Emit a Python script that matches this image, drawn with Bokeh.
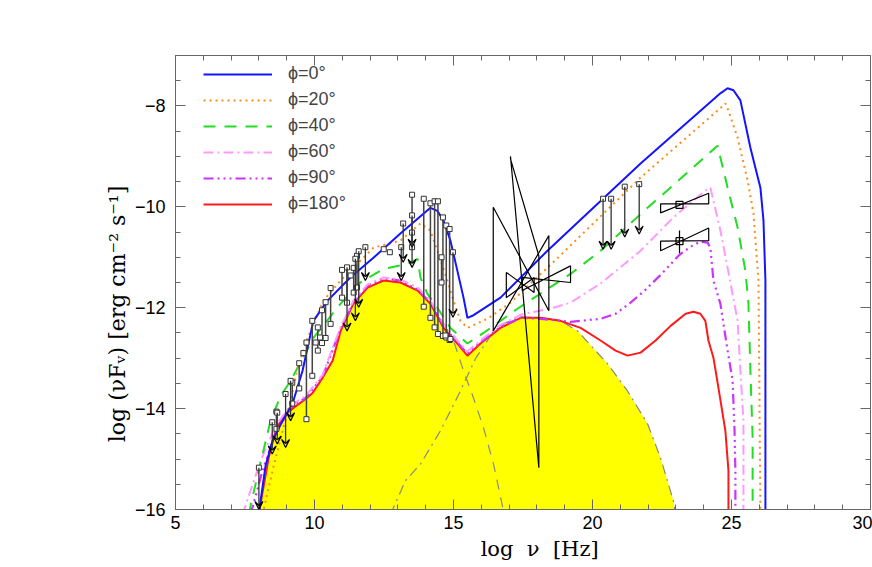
import numpy as np
from bokeh.plotting import figure
from bokeh.models import (Range1d, LinearAxis, Legend, LegendItem, Arrow, VeeHead,
                          ColumnDataSource, FixedTicker)
from bokeh.embed import file_html
from bokeh.resources import INLINE

# ---------------- data (log nu [Hz], log nuFnu) ----------------
# total low-state (synchrotron + SSC), filled yellow
base_x = [7.99, 8.35, 8.60, 8.88, 9.21, 9.68, 9.93, 10.29, 10.65, 10.94, 11.40, 11.91, 12.48, 13.09,
          13.71, 14.17, 14.64, 15.14, 15.50, 15.97, 16.69, 17.41, 18.13, 18.85, 19.46, 20.54, 21.26,
          21.98, 22.45, 22.91, 23.02]
base_y = [-16.1, -14.98, -14.44, -14.14, -14.00, -13.81, -13.69, -13.39, -13.05, -12.46, -11.92, -11.60,
          -11.46, -11.50, -11.66, -11.92, -12.40, -12.71, -12.95, -12.71, -12.40, -12.20, -12.20, -12.26,
          -12.46, -13.11, -13.65, -14.30, -14.98, -15.83, -16.2]

sync_x = [14.64, 15.00, 15.36, 15.72, 16.08, 16.44, 16.80, 16.87]
sync_y = [-12.40, -12.65, -13.25, -13.79, -14.38, -15.10, -16.03, -16.2]

ssc_x = [12.73, 13.27, 13.81, 14.53, 15.25, 15.79, 16.33, 16.87, 17.41, 18.13, 18.85, 19.46, 20.54,
         21.26, 21.98, 22.45, 22.91, 23.02]
ssc_y = [-16.1, -15.43, -15.10, -14.44, -13.65, -13.01, -12.56, -12.30, -12.18, -12.20, -12.26, -12.46,
         -13.11, -13.65, -14.30, -14.98, -15.83, -16.2]

phi0_x = [7.99, 8.24, 8.49, 8.85, 9.21, 9.57, 9.96, 10.47, 11.29, 12.12, 13.09, 14.17, 14.42, 14.64,
          14.89, 15.14, 15.36, 15.50, 15.68, 16.69, 18.38, 21.73, 24.60, 24.86, 25.07, 25.32, 25.68,
          26.04, 26.15, 26.22, 26.22]
phi0_y = [-16.1, -15.13, -14.64, -14.24, -13.90, -13.25, -12.26, -11.86, -11.40, -11.01, -10.53, -10.02,
          -10.08, -10.27, -10.67, -11.27, -11.80, -12.20, -12.16, -11.80, -10.87, -9.14, -7.75, -7.65,
          -7.69, -7.89, -8.83, -9.62, -10.27, -11.46, -16.1]

phi20_x = [8.13, 8.49, 8.85, 9.14, 9.39, 9.75, 10.32, 10.94, 12.12, 13.09, 13.81, 14.17, 14.42, 14.78,
           15.00, 15.25, 15.50, 16.22, 17.05, 17.88, 18.49, 21.73, 24.71, 24.78, 24.89, 25.22, 25.58,
           25.79, 25.97, 26.04]
phi20_y = [-16.1, -15.23, -14.44, -13.85, -13.19, -12.60, -11.86, -11.46, -10.81, -10.67, -10.33, -10.47,
           -10.87, -11.46, -11.86, -12.26, -12.40, -12.22, -11.90, -11.46, -11.15, -9.42, -7.99, -7.95,
           -8.09, -8.63, -9.48, -10.13, -11.46, -16.1]

phi40_x = [7.63, 7.99, 8.42, 8.78, 9.14, 9.96, 10.94, 11.65, 12.48, 13.35, 13.71, 13.81, 14.06, 14.42,
           14.89, 15.50, 16.08, 16.69, 17.30, 18.13, 19.21, 20.29, 21.98, 23.17, 24.50, 24.60, 24.86,
           25.22, 25.50, 25.61, 25.68, 25.76, 25.76]
phi40_y = [-16.1, -15.23, -14.24, -13.75, -13.45, -12.60, -11.92, -11.50, -11.23, -11.13, -11.03, -11.40,
           -11.72, -12.00, -12.40, -12.71, -12.50, -12.26, -12.02, -11.72, -11.33, -10.87, -10.02, -9.44,
           -8.79, -9.02, -9.62, -10.41, -11.27, -11.92, -13.25, -14.58, -16.1]

phi60_x = [7.41, 8.06, 8.60, 9.14, 9.68, 10.29, 10.94, 11.40, 11.91, 12.48, 13.09, 13.71, 14.17, 14.64,
           15.14, 15.50, 15.97, 16.69, 17.41, 18.60, 19.21, 20.29, 21.73, 22.91, 24.14, 24.24, 24.35,
           24.60, 24.86, 25.22, 25.32, 25.43, 25.43]
phi60_y = [-16.1, -15.04, -14.34, -13.94, -13.75, -13.33, -12.38, -11.86, -11.54, -11.40, -11.44, -11.60,
           -11.86, -12.32, -12.65, -12.87, -12.65, -12.34, -12.14, -12.00, -11.90, -11.52, -10.87, -10.21,
           -9.64, -9.62, -9.88, -10.47, -11.21, -12.26, -13.25, -14.24, -16.1]

phi90_x = [7.70, 8.13, 8.60, 9.14, 9.68, 10.29, 10.94, 11.40, 11.91, 12.48, 13.09, 13.71, 14.17, 14.64,
           15.14, 15.50, 15.97, 16.69, 17.41, 18.13, 19.21, 20.29, 20.83, 21.37, 21.91, 22.45, 23.13,
           23.53, 23.88, 24.14, 24.24, 24.35, 24.60, 24.86, 25.04, 25.11, 25.14, 25.14]
phi90_y = [-16.1, -15.23, -14.48, -13.98, -13.79, -13.37, -12.42, -11.90, -11.56, -11.42, -11.46, -11.64,
           -11.90, -12.36, -12.69, -12.91, -12.69, -12.38, -12.20, -12.22, -12.28, -12.22, -12.12, -11.90,
           -11.64, -11.35, -10.95, -10.79, -10.69, -10.71, -10.81, -11.46, -11.92, -12.85, -13.45, -14.44,
           -15.23, -16.1]

phi180_x = [7.99, 8.35, 8.60, 8.88, 9.21, 9.68, 9.93, 10.29, 10.65, 10.94, 11.40, 11.91, 12.48, 13.09,
            13.71, 14.17, 14.64, 15.14, 15.50, 15.97, 16.69, 17.41, 18.13, 18.85, 19.57, 20.29, 20.83,
            21.26, 21.73, 22.27, 22.81, 23.35, 23.63, 23.88, 24.06, 24.17, 24.35, 24.53, 24.78, 24.89,
            24.89]
phi180_y = [-16.1, -14.98, -14.44, -14.14, -14.00, -13.81, -13.69, -13.39, -13.05, -12.46, -11.92, -11.60,
            -11.46, -11.50, -11.66, -11.92, -12.40, -12.71, -12.95, -12.71, -12.40, -12.20, -12.20, -12.26,
            -12.40, -12.65, -12.85, -12.95, -12.89, -12.65, -12.36, -12.12, -12.08, -12.12, -12.26, -12.65,
            -12.99, -13.59, -14.44, -15.23, -16.1]

# observed ranges (variability), squares at both ends
rng_x = [8.63, 9.20, 9.45, 9.71, 9.92, 10.12, 10.27, 10.40, 10.58, 10.99, 11.17, 11.41, 11.53, 13.51,
         13.93, 14.17, 14.32, 14.44, 14.57, 14.62, 14.74, 14.86]
rng_hi = [-14.06, -13.48, -13.10, -12.69, -12.26, -12.39, -12.05, -11.89, -11.61, -11.25, -11.20, -11.21,
          -10.97, -9.76, -9.84, -9.93, -9.89, -9.89, -11.00, -10.21, -10.37, -10.44]
rng_lo = [-14.40, -13.90, -13.60, -14.21, -13.35, -12.85, -12.70, -12.60, -12.32, -11.80, -11.90, -11.70,
          -11.60, -10.80, -11.98, -12.20, -12.39, -12.52, -11.50, -12.56, -12.59, -12.64]

# single measurements
pt_x = [8.0, 8.48, 8.66, 8.96, 9.14, 9.60, 10.04, 10.20, 11.30, 11.47, 11.59, 11.83, 12.49, 12.71,
        13.12, 13.19, 13.51, 13.51, 14.98, 14.89, 14.71, 20.38, 20.67, 21.16, 21.68]
pt_y = [-15.17, -14.27, -14.08, -13.71, -13.45, -12.90, -12.69, -12.59, -11.36, -11.03, -10.88, -10.80,
        -10.84, -10.90, -10.80, -10.33, -10.17, -10.51, -10.90, -12.62, -12.55, -9.84, -9.84, -9.60, -9.55]

# upper limits
ul_x = [8.0, 8.48, 8.66, 8.96, 9.14, 11.17, 11.47, 11.59, 11.83, 13.12, 13.19, 13.51, 13.51, 14.98,
        20.38, 20.67, 21.16, 21.68]
ul_y0 = [-15.17, -14.27, -14.08, -13.71, -13.45, -11.20, -11.03, -10.88, -10.80, -10.80, -10.33, -10.17,
         -10.51, -10.90, -9.84, -9.84, -9.60, -9.55]
ul_y1 = [-16.0, -14.9, -14.7, -14.77, -14.24, -12.46, -12.26, -11.99, -11.46, -11.46, -11.10, -10.80,
         -11.20, -12.19, -10.84, -10.84, -10.60, -10.54]

# X-ray butterflies: x range and y at both ends (two spectral slopes)
xr_x0 = [16.43, 17.05, 17.47, 16.90]
xr_x1 = [18.43, 18.07, 19.21, 17.90]
xr_l_top = [-10.01, -9.00, -11.40, -11.30]
xr_l_bot = [-12.46, -9.05, -11.66, -11.80]
xr_r_top = [-10.57, -10.97, -11.17, -11.40]
xr_r_bot = [-12.06, -15.17, -11.50, -11.70]

# gamma-ray butterflies
g_piv_x = [23.13, 23.13]
g_piv_y = [-9.96, -10.68]
g_x0 = [22.45, 22.45]
g_x1 = [24.18, 24.18]
g_l_top = [-9.94, -10.68]
g_l_bot = [-10.12, -10.87]
g_r_top = [-9.73, -10.42]
g_r_bot = [-9.94, -10.67]
g_err_lo = [-9.96, -10.92]
g_err_hi = [-9.96, -10.47]

labels = ["ϕ=0°", "ϕ=20°", "ϕ=40°", "ϕ=60°", "ϕ=90°", "ϕ=180°"]
NB = "\u00a0"
x_title = NB * 5 + "log" + NB + " ν" + NB + " [Hz]"
y_title = "log (νFᵥ) [erg cm⁻² s⁻¹]" + NB * 9

# ---------------- figure ----------------
SANS = "Liberation Sans"
SERIF = "DejaVu Serif"
AX = "#666666"

p = figure(width=872, height=563, output_backend="svg", toolbar_location=None,
           x_range=Range1d(5, 30), y_range=Range1d(-16, -7),
           min_border_left=175, min_border_right=2, min_border_top=55, min_border_bottom=53,
           x_axis_label=x_title, y_axis_label=y_title)
p.grid.visible = False
p.outline_line_color = AX
p.background_fill_color = "white"
p.border_fill_color = "white"

XT = [5, 10, 15, 20, 25, 30]
YT = [-16, -14, -12, -10, -8]

def style_axis(ax, ticker, labels_on=True):
    ax.ticker = ticker
    ax.axis_line_color = AX
    ax.major_tick_line_color = AX
    ax.minor_tick_line_color = AX
    ax.major_tick_in = 10
    ax.major_tick_out = 0
    ax.minor_tick_in = 5
    ax.minor_tick_out = 0
    ax.major_label_text_font = SANS
    ax.major_label_text_font_size = "18px"
    ax.major_label_text_color = "black"
    ax.axis_label_text_font = SERIF
    ax.axis_label_text_font_style = "normal"
    ax.axis_label_text_color = "black"
    if not labels_on:
        ax.major_label_text_font_size = "0px"
        ax.major_label_standoff = 0
        ax.major_label_overrides = {t: "" for t in ticker.ticks}

style_axis(p.xaxis[0], FixedTicker(ticks=XT, minor_ticks=list(range(5, 31))))
style_axis(p.yaxis[0], FixedTicker(ticks=YT, minor_ticks=list(np.arange(-16, -6.9, 0.5))))
p.yaxis[0].major_label_overrides = {-16: "−16", -14: "−14", -12: "−12", -10: "−10", -8: "−8"}
p.xaxis[0].major_label_standoff = 6
p.xaxis[0].axis_label_standoff = 5
p.xaxis[0].axis_label_text_font_size = "21px"
p.yaxis[0].major_label_standoff = 10
p.yaxis[0].axis_label_standoff = 2
p.yaxis[0].axis_label_text_font_size = "22px"

top = LinearAxis()
style_axis(top, FixedTicker(ticks=XT, minor_ticks=list(range(5, 31))), False)
p.add_layout(top, "above")
right = LinearAxis()
style_axis(right, FixedTicker(ticks=YT, minor_ticks=list(np.arange(-16, -6.9, 0.5))), False)
p.add_layout(right, "right")

# filled low state
p.varea(x=base_x, y1=[-16.5] * len(base_x), y2=base_y, fill_color="#ffff00")
p.line(sync_x, sync_y, line_color="#888888", line_width=1.2, line_dash="10 8")
p.line(ssc_x, ssc_y, line_color="#888888", line_width=1.2, line_dash="10 5 2 5")

# model curves
r180 = p.line(phi180_x, phi180_y, line_color="#ff1a1a", line_width=2)
r90 = p.line(phi90_x, phi90_y, line_color="#cc33ff", line_width=2.2, line_dash="10 4 2 4 2 4 2 4")
r60 = p.line(phi60_x, phi60_y, line_color="#ff99ff", line_width=2, line_dash="10 4 2 4")
r40 = p.line(phi40_x, phi40_y, line_color="#22dd22", line_width=2, line_dash="12 9")
r20 = p.line(phi20_x, phi20_y, line_color="#ff8c1a", line_width=2, line_dash="2 4")
r0 = p.line(phi0_x, phi0_y, line_color="#1414ff", line_width=2)

# data: ranges
p.segment(x0=rng_x, y0=rng_lo, x1=rng_x, y1=rng_hi, line_color="#444444", line_width=1.5)
p.scatter(rng_x + rng_x, rng_lo + rng_hi, marker="square", size=5, fill_color="white",
          line_color="#333333", line_width=1)
# upper limits
ul_src = ColumnDataSource(dict(x=ul_x, y0=ul_y0, y1=ul_y1))
p.add_layout(Arrow(end=VeeHead(size=8, line_color="black", line_width=1.2, fill_alpha=0),
                   x_start="x", y_start="y0", x_end="x", y_end="y1", source=ul_src,
                   line_color="#333333", line_width=1.3))
p.scatter(pt_x, pt_y, marker="square", size=5, fill_color="white", line_color="#333333", line_width=1)

# X-ray butterflies
xs = [[a, b, b, a, a] for a, b in zip(xr_x0, xr_x1)]
ys = [[lt, rb, rt, lb, lt] for lt, rb, rt, lb in zip(xr_l_top, xr_r_bot, xr_r_top, xr_l_bot)]
p.patches(xs, ys, fill_alpha=0, line_color="black", line_width=1.2)

# gamma-ray butterflies
gxs = [[a, b, b, a, a] for a, b in zip(g_x0, g_x1)]
gys = [[lt, rb, rt, lb, lt] for lt, rb, rt, lb in zip(g_l_top, g_r_bot, g_r_top, g_l_bot)]
p.patches(gxs, gys, fill_alpha=0, line_color="black", line_width=1.2)
p.segment(x0=g_piv_x, y0=g_err_lo, x1=g_piv_x, y1=g_err_hi, line_color="black", line_width=1.2)
p.scatter(g_piv_x, g_piv_y, marker="square", size=7, fill_alpha=0, line_color="black", line_width=1.2)

legend = Legend(items=[LegendItem(label=l, renderers=[r]) for l, r in
                       zip(labels, [r0, r20, r40, r60, r90, r180])],
                location=(23, 290), glyph_width=69, glyph_height=20, spacing=5, padding=5, margin=0,
                label_standoff=16, label_text_font=SANS, label_text_font_size="18px",
                label_height=20, border_line_alpha=0, background_fill_alpha=0)
p.add_layout(legend)

open("out.html", "w").write(file_html(p, INLINE))
